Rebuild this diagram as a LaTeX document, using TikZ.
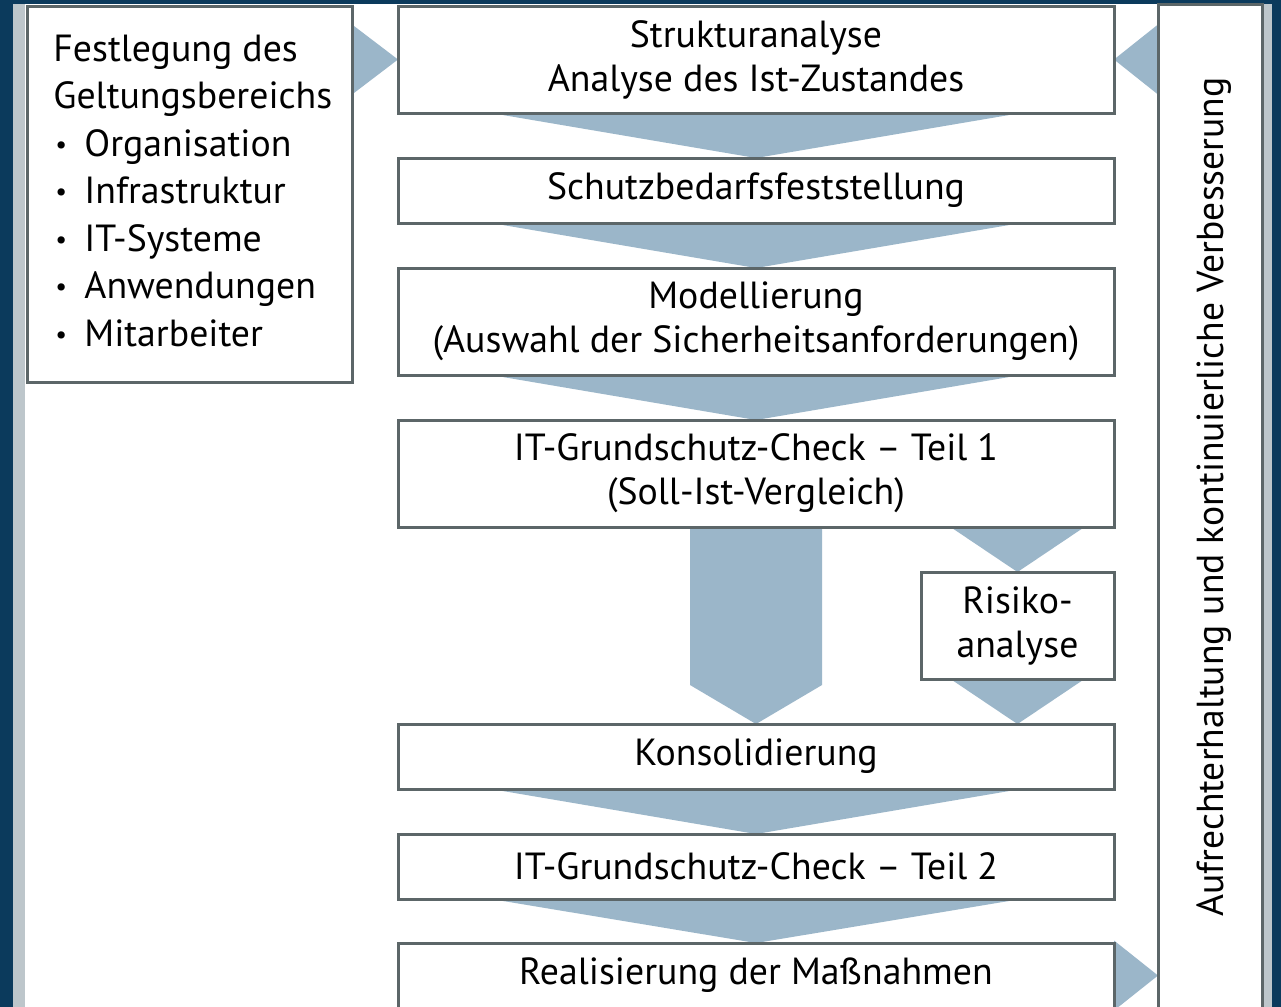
\documentclass[tikz,border=0pt]{standalone}
\usepackage{fontspec}
\setmainfont{PT Sans}
\usetikzlibrary{calc,backgrounds}

\definecolor{frameblue}{HTML}{0B3A5C}
\definecolor{stripgray}{HTML}{BDC6CB}
\definecolor{boxline}{HTML}{5C6668}
\definecolor{flowblue}{HTML}{9BB6C9}

\newcommand{\itemdot}{\makebox[14.5pt][l]{\raisebox{1.5pt}{\fontsize{13}{13}\selectfont\textbullet}}}

\tikzset{
  stepbox/.style={draw=boxline,line width=1.5pt,fill=white,inner sep=0pt,outer sep=0pt,
    minimum width=358pt,align=center,font=\fontsize{18.9}{22}\selectfont},
  tallbox/.style={stepbox,minimum height=53.5pt},
  flatbox/.style={stepbox,minimum height=32.5pt},
  flow/.style={fill=flowblue},
  scopeline/.style={anchor=base west,inner sep=0pt,font=\fontsize{18.9}{22}\selectfont}
}

\begin{document}
\begin{tikzpicture}[x=0.5pt,y=-0.5pt]
    \useasboundingbox (0,0) rectangle (1281,1007);
    \begin{pgfonlayer}{background}
        \fill[frameblue] (0,0) rectangle (1281,1007);
        \fill[stripgray] (13,4) rectangle (1272,1007);
        \fill[white] (25,4) rectangle (1263,1007);
    \end{pgfonlayer}

    \node[stepbox,minimum width=162.5pt,minimum height=188pt] (scope) at (189.5,194) {};
    \node[scopeline] (scope1) at (53,61) {Festlegung des};
    \node[scopeline] (scope2) at (53,108.5) {Geltungsbereichs};
    \node[scopeline] (item1) at (55,156) {\itemdot Organisation};
    \node[scopeline] (item2) at (55,203.5) {\itemdot Infrastruktur};
    \node[scopeline] (item3) at (55,251) {\itemdot IT-Systeme};
    \node[scopeline] (item4) at (55,298.5) {\itemdot Anwendungen};
    \node[scopeline] (item5) at (55,346) {\itemdot Mitarbeiter};

    \node[tallbox] (struktur) at (756,59.5) {Strukturanalyse\\Analyse des Ist-Zustandes};
    \node[flatbox] (schutz) at (756,190.5) {Schutzbedarfsfeststellung};
    \node[tallbox] (modell) at (756,321.5) {Modellierung\\(Auswahl der Sicherheitsanforderungen)};
    \node[tallbox] (check1) at (756,473.5) {IT-Grundschutz-Check -- Teil 1\\(Soll-Ist-Vergleich)};
    \node[stepbox,minimum width=96.5pt,minimum height=53.5pt] (risiko) at (1017.5,625.5) {Risiko-\\analyse};
    \node[flatbox] (konsol) at (756,756.5) {Konsolidierung};
    \node[flatbox] (check2) at (756,866.5) {IT-Grundschutz-Check -- Teil 2};
    \node[flatbox] (realis) at (756,975.5) {Realisierung der Maßnahmen};
    \node[stepbox,minimum width=52pt,minimum height=508pt] (pflege) at (1210,512) {};
    \node[rotate=90,inner sep=0pt,font=\fontsize{18.8}{22}\selectfont] (pflegetext) at (1214,497)
        {Aufrechterhaltung und kontinuierliche Verbesserung};

    \begin{pgfonlayer}{background}
        \fill[flow] ($(scope.east |- struktur.west)+(0,-35)$) -- (struktur.west)
            -- ($(scope.east |- struktur.west)+(0,35)$) -- cycle;
        \fill[flow] ($(pflege.west |- struktur.east)+(0,-35)$) -- (struktur.east)
            -- ($(pflege.west |- struktur.east)+(0,35)$) -- cycle;
        \fill[flow] ($(struktur.south)+(-265,0)$) -- ($(struktur.south)+(265,0)$) -- (schutz.north) -- cycle;
        \fill[flow] ($(schutz.south)+(-265,0)$) -- ($(schutz.south)+(265,0)$) -- (modell.north) -- cycle;
        \fill[flow] ($(modell.south)+(-265,0)$) -- ($(modell.south)+(265,0)$) -- (check1.north) -- cycle;
        \fill[flow] ($(check1.south)+(-66,0)$) -- ($(check1.south)+(66,0)$) -- ($(check1.south)+(66,158)$)
            -- (konsol.north) -- ($(check1.south)+(-66,158)$) -- cycle;
        \fill[flow] ($(risiko.north |- check1.south)+(-67,0)$) -- ($(risiko.north |- check1.south)+(67,0)$)
            -- (risiko.north) -- cycle;
        \fill[flow] ($(risiko.south)+(-67,0)$) -- ($(risiko.south)+(67,0)$) -- (risiko.south |- konsol.north) -- cycle;
        \fill[flow] ($(konsol.south)+(-265,0)$) -- ($(konsol.south)+(265,0)$) -- (check2.north) -- cycle;
        \fill[flow] ($(check2.south)+(-265,0)$) -- ($(check2.south)+(265,0)$) -- (realis.north) -- cycle;
        \fill[flow] ($(realis.east)+(0,-35)$) -- (pflege.west |- realis.east) -- ($(realis.east)+(0,35)$) -- cycle;
    \end{pgfonlayer}
\end{tikzpicture}
\end{document}
